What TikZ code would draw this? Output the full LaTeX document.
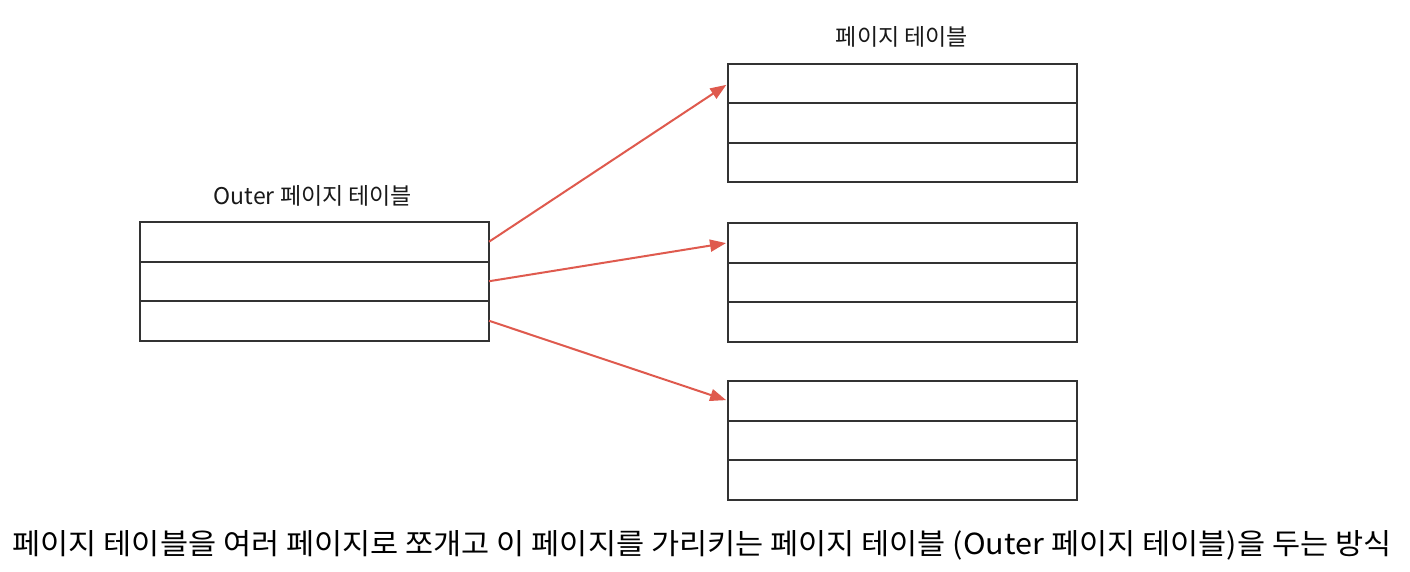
\documentclass[tikz,border=0pt]{standalone}
\usepackage{fontspec}
\newfontfamily\kr{Noto Sans CJK KR}
\usetikzlibrary{arrows.meta}
\definecolor{boxline}{HTML}{333333}
\definecolor{arrred}{HTML}{DF5A4E}
\tikzset{
  row/.style={draw=boxline, line width=2pt, minimum width=349pt, minimum height=39.5pt, inner sep=0pt, outer sep=0pt},
  arr/.style={draw=arrred, line width=2pt, -{Triangle[length=16pt,width=12pt]}, shorten >=2pt},
  lbl/.style={font=\kr\fontsize{23}{26}\selectfont, text=black!90, inner sep=0pt},
  captext/.style={font=\kr\fontsize{29}{34}\selectfont, text=black, inner sep=0pt, xscale=1.054}
}
\begin{document}
\begin{tikzpicture}[x=1pt,y=-1pt]
\useasboundingbox[fill=white] (0,0) rectangle (1410,572);
% left outer table
\node[row] (L1) at (314.5,241.75) {};
\node[row] (L2) at (314.5,281.25) {};
\node[row] (L3) at (314.5,320.75) {};
% right tables
\node[row] (A1) at (902.5,83.75) {};
\node[row] (A2) at (902.5,123.25) {};
\node[row] (A3) at (902.5,162.75) {};
\node[row] (B1) at (902.5,242.75) {};
\node[row] (B2) at (902.5,282.25) {};
\node[row] (B3) at (902.5,321.75) {};
\node[row] (C1) at (902.5,400.75) {};
\node[row] (C2) at (902.5,440.25) {};
\node[row] (C3) at (902.5,479.75) {};
% labels
\node[lbl] (lblL) at (313,196) {Outer 페이지 테이블};
\node[lbl] (lblR) at (902,37) {페이지 테이블};
% arrows
\draw[arr] (L1.east) -- (A1.west);
\draw[arr] (L2.east) -- (B1.west);
\draw[arr] (L3.east) -- (C1.west);
% caption
\node[captext] (caption) at (702,545) {페이지 테이블을 여러 페이지로 쪼개고 이 페이지를 가리키는 페이지 테이블 (Outer 페이지 테이블)을 두는 방식};
\end{tikzpicture}
\end{document}
